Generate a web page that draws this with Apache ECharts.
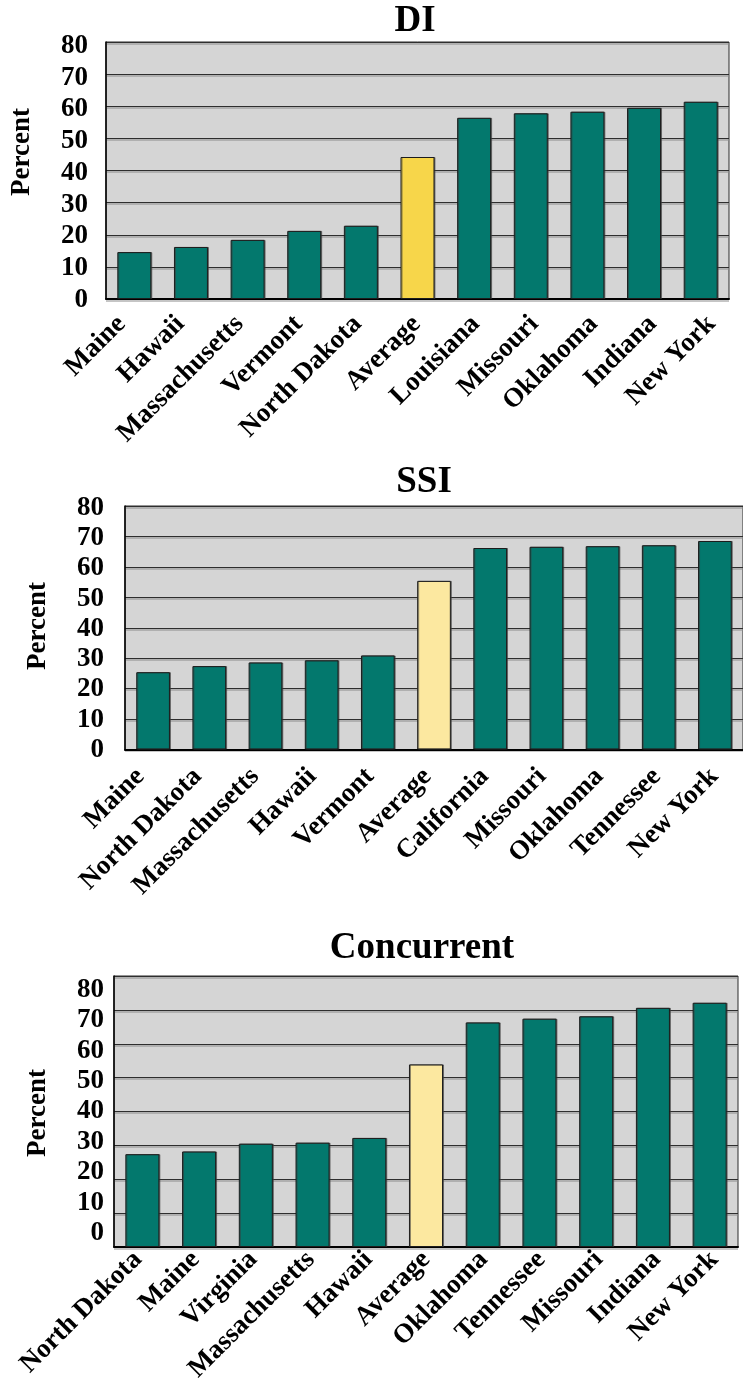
<!DOCTYPE html>
<html>
<head>
<meta charset="utf-8">
<script src="https://cdn.jsdelivr.net/npm/echarts@6/dist/echarts.min.js"></script>
<style>
  html, body { margin: 0; padding: 0; background: #ffffff; }
  #chart { width: 743px; height: 1385px; }
</style>
</head>
<body>
<div id="chart"></div>
<script>
// Share of beneficiaries by state, three programs
const diStates = ['Maine', 'Hawaii', 'Massachusetts', 'Vermont', 'North Dakota', 'Average', 'Louisiana', 'Missouri', 'Oklahoma', 'Indiana', 'New York'];
const diValues = [14.6, 16.2, 18.4, 21.2, 22.8, 44.2, 56.4, 57.8, 58.3, 59.5, 61.4];

const ssiStates = ['Maine', 'North Dakota', 'Massachusetts', 'Hawaii', 'Vermont', 'Average', 'California', 'Missouri', 'Oklahoma', 'Tennessee', 'New York'];
const ssiValues = [25.4, 27.4, 28.6, 29.3, 30.9, 55.4, 66.2, 66.6, 66.8, 67.1, 68.5];

const concStates = ['North Dakota', 'Maine', 'Virginia', 'Massachusetts', 'Hawaii', 'Average', 'Oklahoma', 'Tennessee', 'Missouri', 'Indiana', 'New York'];
const concValues = [27.4, 28.2, 30.5, 30.8, 32.2, 53.9, 66.3, 67.4, 68.1, 70.6, 72.1];

const yMin = 0, yMax = 80, yStep = 10;

const FONT = '"Liberation Serif", "Times New Roman", serif';
const TEAL = '#03786D';

// panel layout: plot box, value-label band, category-label band, title and axis-name spots
const panels = [
  { title: 'DI', states: diStates, values: diValues, avgColor: '#F7D64A',
    plot: { left: 106, top: 42, width: 623, height: 257 },
    ticks: { top: 46, height: 254, margin: 18 },
    cats: { left: 92, width: 649, margin: 21 },
    titlePos: [415, 21], namePos: [22, 152] },
  { title: 'SSI', states: ssiStates, values: ssiValues, avgColor: '#FCE8A0',
    plot: { left: 125, top: 506, width: 623, height: 243.5 },
    ticks: { top: 508, height: 242, margin: 21 },
    cats: { left: 111.5, width: 638.5, margin: 23 },
    titlePos: [424, 482], namePos: [38, 626] },
  { title: 'Concurrent', states: concStates, values: concValues, avgColor: '#FCE8A0',
    plot: { left: 114, top: 976, width: 624, height: 271 },
    ticks: { top: 990, height: 243, margin: 10 },
    cats: { left: 109, width: 641, margin: 19 },
    titlePos: [422, 948], namePos: [38, 1113] }
];

const grid = [], xAxis = [], yAxis = [], series = [], graphic = [];

const labelFont = { fontFamily: FONT, fontWeight: 'bold', fontSize: 27, color: '#000' };

panels.forEach((p) => {
  const g = grid.length;
  // plot area with grey backdrop
  grid.push({
    left: p.plot.left, top: p.plot.top, width: p.plot.width, height: p.plot.height,
    show: true, backgroundColor: '#D5D5D5', borderColor: '#2a2a2a', borderWidth: 1,
    containLabel: false
  });
  // narrow band that carries the value labels
  grid.push({
    left: p.plot.left, top: p.ticks.top, width: 1, height: p.ticks.height,
    show: false, containLabel: false
  });
  // band along the plot floor that carries the state names
  grid.push({
    left: p.cats.left, top: p.plot.top, width: p.cats.width, height: p.plot.height,
    show: false, containLabel: false
  });

  xAxis.push({
    gridIndex: g, type: 'category', data: p.states,
    axisLine: { show: true, lineStyle: { color: '#000', width: 2 } },
    axisTick: { show: false },
    axisLabel: { show: false }
  });
  xAxis.push({ gridIndex: g + 1, type: 'value', show: false });
  xAxis.push({
    gridIndex: g + 2, type: 'category', data: p.states,
    axisLine: { show: false }, axisTick: { show: false }, splitLine: { show: false },
    axisLabel: Object.assign({ interval: 0, rotate: 45, margin: p.cats.margin }, labelFont)
  });

  yAxis.push({
    gridIndex: g, type: 'value', min: yMin, max: yMax, interval: yStep,
    axisLine: { show: true, lineStyle: { color: '#000', width: 1.5 } },
    axisTick: { show: false },
    axisLabel: { show: false },
    splitLine: {
      show: true,
      lineStyle: { color: '#2e2e2e', width: 1.2, shadowColor: '#8c8c8c', shadowOffsetY: 1.5, shadowBlur: 0 }
    }
  });
  yAxis.push({
    gridIndex: g + 1, type: 'value', min: yMin, max: yMax, interval: yStep,
    axisLine: { show: false }, axisTick: { show: false }, splitLine: { show: false },
    axisLabel: Object.assign({ margin: p.ticks.margin }, labelFont)
  });
  yAxis.push({ gridIndex: g + 2, type: 'value', min: yMin, max: yMax, show: false });

  series.push({
    type: 'bar', xAxisIndex: g, yAxisIndex: g,
    data: p.values, barWidth: '60%',
    itemStyle: {
      color: (params) => p.states[params.dataIndex] === 'Average' ? p.avgColor : TEAL,
      borderColor: '#1c1c1c', borderWidth: 1,
      shadowColor: 'rgba(60,60,60,0.6)', shadowOffsetX: 1, shadowOffsetY: 0, shadowBlur: 0
    },
    silent: true, animation: false
  });

  graphic.push({
    type: 'text', x: p.titlePos[0], y: p.titlePos[1],
    style: {
      text: p.title, fontFamily: FONT, fontWeight: 'bold', fontSize: 37, fill: '#000',
      textAlign: 'center', textVerticalAlign: 'middle'
    }
  });
  graphic.push({
    type: 'text', x: p.namePos[0], y: p.namePos[1], rotation: Math.PI / 2,
    style: {
      text: 'Percent', fontFamily: FONT, fontWeight: 'bold', fontSize: 27, fill: '#000',
      textAlign: 'center', textVerticalAlign: 'middle'
    }
  });
});

const chart = echarts.init(document.getElementById('chart'), null, { renderer: 'canvas' });
chart.setOption({
  animation: false,
  grid, xAxis, yAxis, series, graphic
});
</script>
</body>
</html>
